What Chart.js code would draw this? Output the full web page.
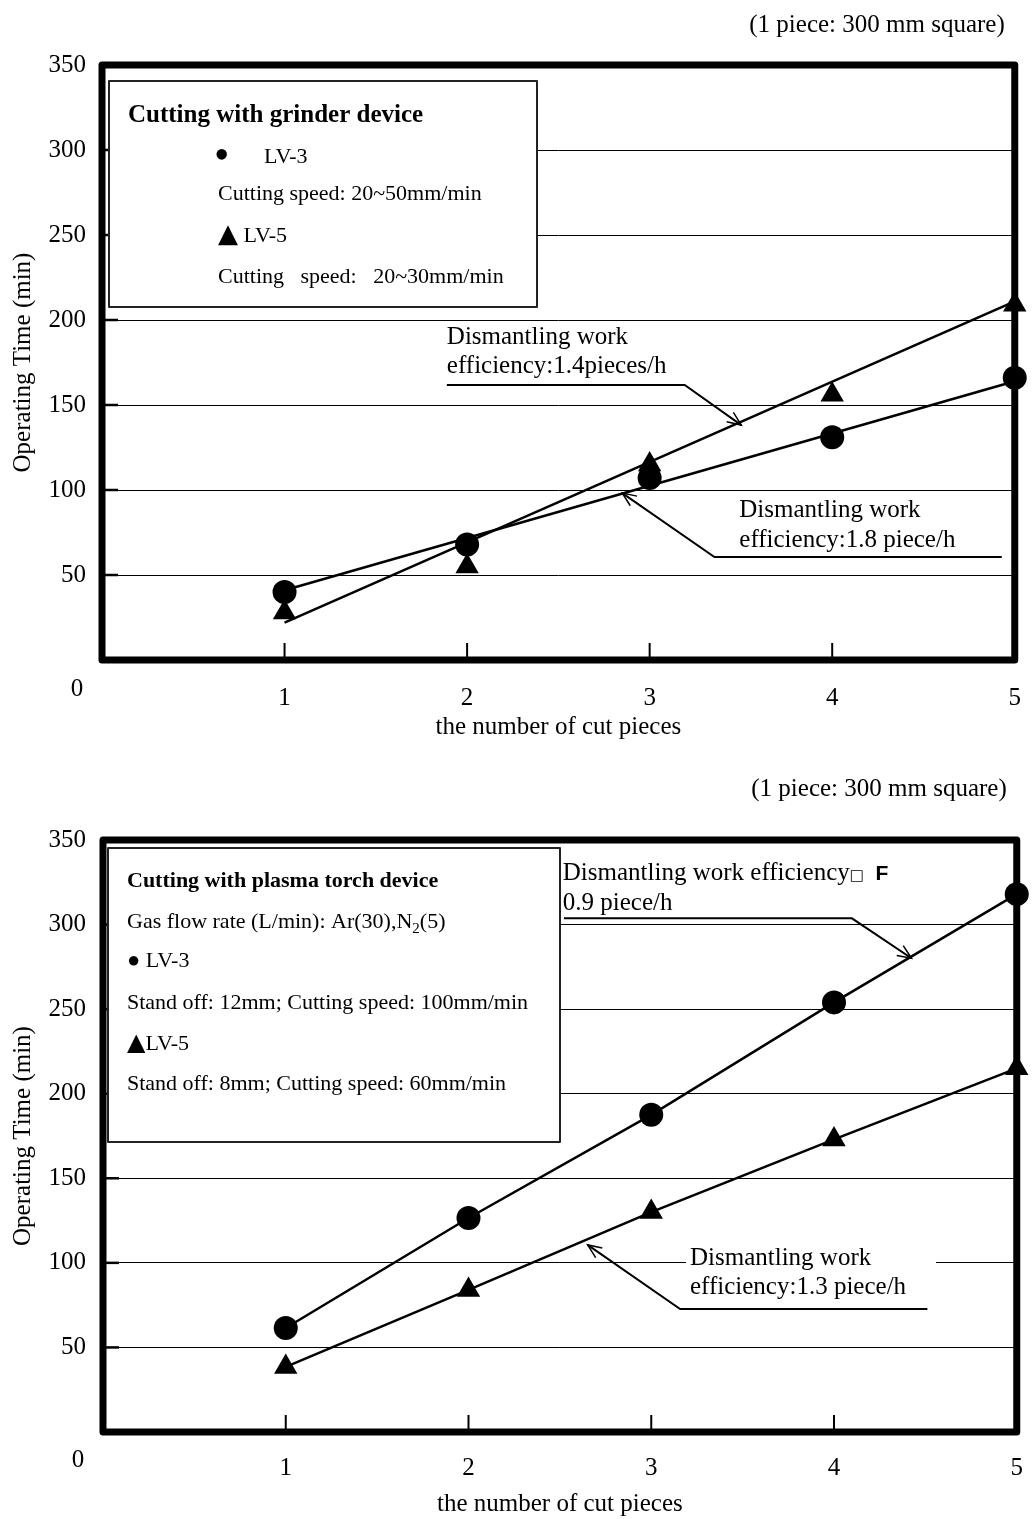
<!DOCTYPE html>
<html>
<head>
<meta charset="utf-8">
<script src="https://cdn.jsdelivr.net/npm/chart.js@4.4.1/dist/chart.umd.min.js"></script>
<style>
  body { margin: 0; background: #fff; }
  .panel { position: absolute; left: 0; }
</style>
</head>
<body>
<div class="panel" style="top:0"><canvas id="grinder" width="1036" height="760"></canvas></div>
<div class="panel" style="top:760px"><canvas id="plasma" width="1036" height="759"></canvas></div>
<script>
// values
const pieces = [1, 2, 3, 4, 5];
const grinderLV3 = [40, 68, 107, 131, 166];
const grinderLV5 = [28, 55, 115, 156, 209];
const fitEnds = [1, 5];
const grinderFitLV3 = [41, 164];
const grinderFitLV5 = [22, 211];
const plasmaLV3 = [61.5, 126.5, 187.5, 254, 318];
const plasmaLV5 = [38.5, 84, 130, 173, 215];
const yTicks = [0, 50, 100, 150, 200, 250, 300, 350];
const xTicks = [0, 1, 2, 3, 4, 5];

const SERIF = '"Liberation Serif", "Times New Roman", serif';
const BODY = '22px ' + SERIF;
const NOTE = '25px ' + SERIF;

function pts(xs, ys) {
  return xs.map((x, i) => ({x: x, y: ys[i]}));
}

function drawParts(ctx, parts, x, y, font) {
  if (typeof parts === 'string') parts = [[parts]];
  parts.forEach(([t, f, dy]) => {
    ctx.font = f || font;
    ctx.fillText(t, x, y + (dy || 0));
    x += ctx.measureText(t).width;
  });
}

// frame, inward ticks, boxed legend and the arrow notes
const decorPlugin = {
  id: 'decor',
  afterDraw(chart, args, o) {
    const ctx = chart.ctx, a = chart.chartArea;
    const X = v => chart.scales.x.getPixelForValue(v);
    const Y = v => chart.scales.y.getPixelForValue(v);
    const seg = p => {
      ctx.beginPath();
      p.forEach(([x, y], i) => i ? ctx.lineTo(x, y) : ctx.moveTo(x, y));
      ctx.stroke();
    };
    ctx.save();
    ctx.strokeStyle = '#000';
    ctx.fillStyle = '#000';

    ctx.lineWidth = 2.5;
    yTicks.slice(1, -1).forEach(v => seg([[a.left, Y(v)], [a.left + 16, Y(v)]]));
    ctx.lineWidth = 2;
    xTicks.slice(1, -1).forEach(v => seg([[X(v), a.bottom - 17], [X(v), a.bottom]]));

    ctx.lineWidth = 7;
    ctx.lineJoin = 'round';
    ctx.strokeRect(a.left, a.top, a.right - a.left, a.bottom - a.top);

    ctx.font = NOTE;
    ctx.textAlign = 'center';
    ctx.textBaseline = 'middle';
    ctx.fillText('0', a.left - 25, a.bottom + o.zeroDy);
    ctx.textAlign = 'right';
    ctx.textBaseline = 'alphabetic';
    ctx.fillText(o.caption, a.right - 10, a.top + o.captionDy);
    ctx.textAlign = 'left';

    const b = o.box;
    ctx.fillStyle = '#fff';
    ctx.fillRect(a.left + b.x, a.top + b.y, b.w, b.h);
    ctx.lineWidth = 2;
    ctx.strokeStyle = '#222';
    ctx.strokeRect(a.left + b.x, a.top + b.y, b.w, b.h);
    ctx.fillStyle = '#000';
    b.rows.forEach(r => drawParts(ctx, r.parts, a.left + r.x, a.top + r.y, BODY));

    o.notes.forEach(n => {
      const tx = X(n.at[0]), ty = Y(n.at[1]);
      if (n.clear) {
        ctx.fillStyle = '#fff';
        ctx.fillRect(tx - 4, ty - 24, n.clear, n.gap + 32);
        ctx.fillStyle = '#000';
      }
      n.lines.forEach((ln, i) => drawParts(ctx, ln, tx, ty + i * n.gap, NOTE));
      const p = n.leader.map(([u, v]) => [X(u), Y(v)]);
      ctx.strokeStyle = '#000';
      ctx.lineWidth = 2;
      ctx.lineJoin = 'miter';
      seg(p);
      const [x1, y1] = p[p.length - 2], [x2, y2] = p[p.length - 1];
      const ang = Math.atan2(y2 - y1, x2 - x1);
      ctx.lineWidth = 1.5;
      seg([[x2 - 15 * Math.cos(ang - 0.4), y2 - 15 * Math.sin(ang - 0.4)], [x2, y2],
           [x2 - 15 * Math.cos(ang + 0.4), y2 - 15 * Math.sin(ang + 0.4)]]);
    });
    ctx.restore();
  }
};

function buildChart(id, datasets, frame, decor) {
  return new Chart(document.getElementById(id), {
    type: 'scatter',
    data: { datasets: datasets },
    plugins: [decorPlugin],
    options: {
      responsive: false,
      animation: false,
      events: [],
      layout: { padding: { left: 0, top: frame.top, right: 13, bottom: 0 } },
      plugins: { legend: { display: false }, tooltip: { enabled: false }, decor: decor },
      scales: {
        x: {
          type: 'linear', min: 0, max: 5,
          afterBuildTicks: s => { s.ticks = xTicks.map(v => ({ value: v })); },
          afterFit: s => { s.height = frame.xh; },
          grid: { display: false },
          border: { display: false },
          ticks: { color: '#000', font: { family: SERIF, size: 25 }, padding: frame.xpad,
                   callback: v => v === 0 ? '' : v },
          title: { display: true, text: 'the number of cut pieces', color: '#000',
                   font: { family: SERIF, size: 25 }, padding: { top: 0, bottom: frame.xtitle } }
        },
        y: {
          type: 'linear', min: 0, max: 350,
          afterBuildTicks: s => { s.ticks = yTicks.map(v => ({ value: v })); },
          afterFit: s => { s.width = frame.left; },
          grid: { color: '#000', lineWidth: 1, drawTicks: false },
          border: { display: false },
          ticks: { color: '#000', font: { family: SERIF, size: 25 }, padding: frame.ypad,
                   callback: v => v === 0 ? '' : v },
          title: { display: true, text: 'Operating Time (min)', color: '#000',
                   font: { family: SERIF, size: 25 }, padding: { top: 8, bottom: 0 } }
        }
      }
    }
  });
}

const marker = (label, data, style, r) => ({
  label: label, data: data, pointStyle: style, pointRadius: r,
  backgroundColor: '#000', borderColor: '#000', pointBorderWidth: 0,
  showLine: false, clip: false
});
const fitLine = (label, data) => ({
  label: label, data: data, showLine: true, pointRadius: 0,
  borderColor: '#000', borderWidth: 2.5, clip: false
});

buildChart('grinder', [
  marker('LV-3', pts(pieces, grinderLV3), 'circle', 12),
  marker('LV-5', pts(pieces, grinderLV5), 'triangle', 13.5),
  fitLine('LV-3 fit', pts(fitEnds, grinderFitLV3)),
  fitLine('LV-5 fit', pts(fitEnds, grinderFitLV5))
], { top: 65, left: 102, xh: 100, xpad: 15, ypad: 16, xtitle: 18 }, {
  caption: '(1 piece: 300 mm square)', captionDy: -33, zeroDy: 29,
  box: {
    x: 7, y: 16, w: 428, h: 226,
    rows: [
      { x: 26, y: 57, parts: [['Cutting with grinder device', 'bold 25px ' + SERIF]] },
      { x: 112, y: 104, parts: [['•', '44px ' + SERIF]] },
      { x: 162, y: 98, parts: 'LV-3' },
      { x: 116, y: 135, parts: 'Cutting speed: 20~50mm/min' },
      { x: 116, y: 177, parts: [['▲', '26px "DejaVu Sans"'], [' LV-5']] },
      { x: 116, y: 218, parts: 'Cutting   speed:   20~30mm/min' }
    ]
  },
  notes: [
    { lines: ['Dismantling work', 'efficiency:1.4pieces/h'], at: [1.889, 185.9], gap: 29,
      leader: [[1.889, 161.8], [3.192, 161.8], [3.502, 138.2]] },
    { lines: ['Dismantling work', 'efficiency:1.8 piece/h'], at: [3.491, 84.1], gap: 30,
      leader: [[4.929, 60.6], [3.355, 60.6], [2.850, 98.2]] }
  ]
});

const plasmaLine = (label, data, style, r) =>
  Object.assign(marker(label, data, style, r), { showLine: true, borderWidth: 2.5 });

buildChart('plasma', [
  plasmaLine('LV-3', pts(pieces, plasmaLV3), 'circle', 12),
  plasmaLine('LV-5', pts(pieces, plasmaLV5), 'triangle', 13.5)
], { top: 80, left: 103, xh: 87, xpad: 13, ypad: 17, xtitle: 0 }, {
  caption: '(1 piece: 300 mm square)', captionDy: -44, zeroDy: 28,
  box: {
    x: 5, y: 8, w: 452, h: 294,
    rows: [
      { x: 24, y: 47, parts: [['Cutting with plasma torch device', 'bold 22px ' + SERIF]] },
      { x: 24, y: 88, parts: [['Gas flow rate (L/min): Ar(30),N'], ['2', '15px ' + SERIF, 5], ['(5)']] },
      { x: 24, y: 127, parts: '● LV-3' },
      { x: 24, y: 169, parts: 'Stand off: 12mm; Cutting speed: 100mm/min' },
      { x: 24, y: 210, parts: [['▲', '24px "DejaVu Sans"'], ['LV-5']] },
      { x: 24, y: 250, parts: 'Stand off: 8mm; Cutting speed: 60mm/min' }
    ]
  },
  notes: [
    { lines: [[['Dismantling work efficiency'], ['□', '15px "DejaVu Sans"'], ['  F', 'bold 21px "Liberation Sans"']],
              '0.9 piece/h'], at: [2.516, 326.3], gap: 30,
      leader: [[2.522, 303.7], [4.098, 303.7], [4.424, 280.1]] },
    { lines: ['Dismantling work', 'efficiency:1.3 piece/h'], at: [3.212, 98.8], gap: 29, clear: 250,
      leader: [[4.511, 72.7], [3.158, 72.7], [2.652, 110.6]] }
  ]
});
</script>
</body>
</html>
